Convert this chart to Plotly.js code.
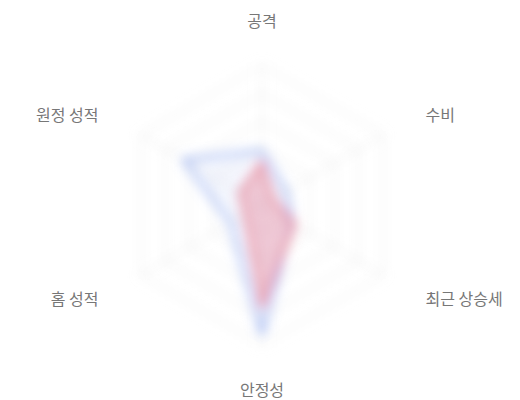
<!DOCTYPE html>
<html>
<head>
<meta charset="utf-8">
<script src="https://cdn.plot.ly/plotly-3.0.1.min.js"></script>
<style>
  html, body { margin: 0; padding: 0; background: #fff; }
  #chart { width: 520px; height: 400px; }
</style>
</head>
<body>
<div id="chart"></div>
<script>
var categories = ["공격", "수비", "최근 상승세", "안정성", "홈 성적", "원정 성적"];
var blueValues = [39, 20, 25, 93, 26, 65];
var redValues = [31, 9, 27, 73, 14, 18];

function closeLoop(arr) {
    return arr.concat([arr[0]]);
}

var blueTrace = {
    type: "scatterpolar",
    r: closeLoop(blueValues),
    theta: closeLoop(categories),
    mode: "lines",
    fill: "toself",
    fillcolor: "rgba(140,165,240,0.10)",
    line: { color: "#8ea8f0", width: 3 },
    hoverinfo: "skip",
    showlegend: false
};

var redTrace = {
    type: "scatterpolar",
    r: closeLoop(redValues),
    theta: closeLoop(categories),
    mode: "lines",
    fill: "toself",
    fillcolor: "rgba(232,120,140,0.36)",
    line: { color: "#e57585", width: 3 },
    hoverinfo: "skip",
    showlegend: false
};

var layout = {
    width: 520,
    height: 400,
    margin: { l: 24, r: 20, t: 65, b: 55 },
    paper_bgcolor: "#fff",
    showlegend: false,
    polar: {
        bgcolor: "#fff",
        gridshape: "linear",
        radialaxis: {
            range: [0, 100],
            dtick: 20,
            showticklabels: false,
            ticks: "",
            showline: false,
            gridcolor: "#eaeaea",
            gridwidth: 1.5
        },
        angularaxis: {
            direction: "clockwise",
            rotation: 90,
            ticks: "outside",
            ticklen: 31,
            tickcolor: "rgba(0,0,0,0)",
            tickfont: { family: "Noto Sans CJK KR", size: 16, color: "#777" },
            showline: true,
            linecolor: "#eaeaea",
            linewidth: 1.5,
            gridcolor: "#eaeaea",
            gridwidth: 1.5
        }
    }
};

Plotly.newPlot("chart", [blueTrace, redTrace], layout, { staticPlot: true }).then(function (gd) {
    // soft blur on the grid and traces, like the reference
    var svg = gd.querySelector("svg.main-svg");
    var ns = "http://www.w3.org/2000/svg";
    var defs = svg.querySelector("defs") || svg.insertBefore(document.createElementNS(ns, "defs"), svg.firstChild);
    var filter = document.createElementNS(ns, "filter");
    filter.setAttribute("id", "softblur");
    filter.setAttribute("x", "-30%");
    filter.setAttribute("y", "-30%");
    filter.setAttribute("width", "160%");
    filter.setAttribute("height", "160%");
    var blur = document.createElementNS(ns, "feGaussianBlur");
    blur.setAttribute("stdDeviation", "6");
    filter.appendChild(blur);
    defs.appendChild(filter);
    var groups = gd.querySelectorAll(".polarlayer .radial-grid, .polarlayer .angular-grid, .polarlayer .frontplot, .polarlayer .angular-line");
    for (var i = 0; i < groups.length; i++) {
        groups[i].setAttribute("filter", "url(#softblur)");
    }
    // side labels sit a little further out than the top/bottom ones
    var labels = gd.querySelectorAll(".polarlayer .angularaxistick text");
    for (var j = 0; j < labels.length; j++) {
        var anchor = labels[j].getAttribute("text-anchor");
        var shift = anchor === "end" ? -12 : (anchor === "start" ? 12 : 0);
        if (shift) {
            var t = labels[j].getAttribute("transform") || "";
            labels[j].setAttribute("transform", t + " translate(" + shift + ",0)");
        }
    }
});
</script>
</body>
</html>
